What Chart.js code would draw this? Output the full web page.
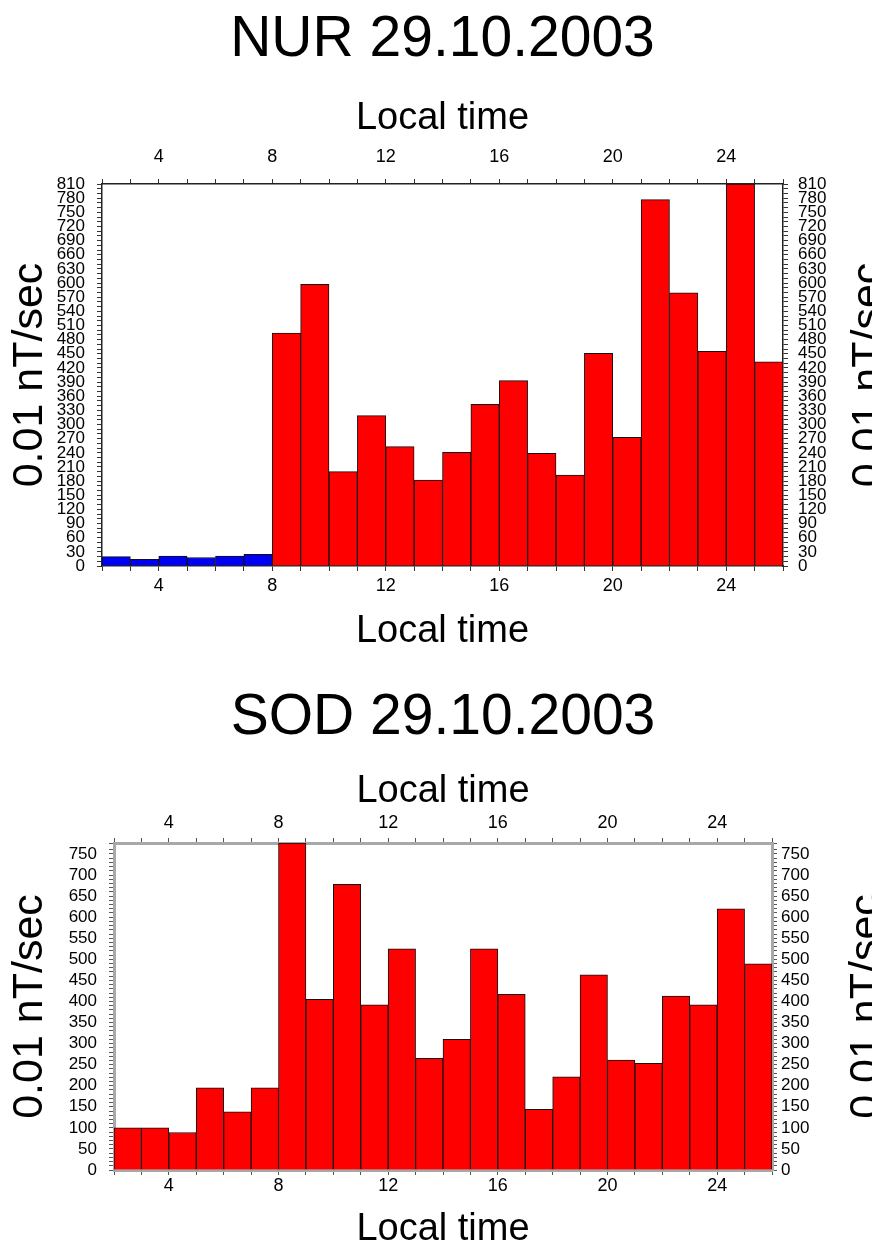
<!DOCTYPE html>
<html>
<head>
<meta charset="utf-8">
<title>NUR / SOD 29.10.2003</title>
<script src="https://cdn.jsdelivr.net/npm/chart.js@4.4.1/dist/chart.umd.min.js"></script>
<style>
  html, body { margin: 0; padding: 0; background: #fff; overflow: hidden; }
  .box { position: absolute; left: 0; width: 872px; }
  #nurBox { top: 0; height: 660px; }
  #sodBox { top: 660px; height: 600px; }
</style>
</head>
<body>
<div class="box" id="nurBox"><canvas id="nurChart"></canvas></div>
<div class="box" id="sodBox"><canvas id="sodChart"></canvas></div>
<script>
// start hour of each one-hour bin (local time)
const hourStarts = [2, 3, 4, 5, 6, 7, 8, 9, 10, 11, 12, 13, 14, 15, 16, 17, 18, 19, 20, 21, 22, 23, 24, 25];

// NUR, 0.01 nT/sec
const nurValues = [20, 14, 21, 18, 21, 25, 494, 597, 200, 319, 253, 182, 241, 343, 393, 239, 193, 451, 273, 777, 579, 455, 810, 433];
// SOD, 0.01 nT/sec
const sodValues = [100, 100, 89, 195, 138, 195, 776, 405, 678, 392, 525, 265, 310, 525, 417, 144, 221, 463, 261, 253, 413, 392, 620, 489];

const xTickLabels = [4, 8, 12, 16, 20, 24];
const nurYTickLabels = [0, 30, 60, 90, 120, 150, 180, 210, 240, 270, 300, 330, 360, 390, 420, 450, 480, 510, 540, 570, 600, 630, 660, 690, 720, 750, 780, 810];
const sodYTickLabels = [0, 50, 100, 150, 200, 250, 300, 350, 400, 450, 500, 550, 600, 650, 700, 750];

const nurYMax = 810;
const sodYMax = 776;
const nurBlueBefore = 8; // NUR bins before 08 LT are drawn blue

Chart.defaults.font.family = "'Liberation Sans', Arial, sans-serif";
Chart.defaults.color = '#000';

// y axis title on the right side, reading bottom to top like the left one
const rightTitle = {
    id: 'rightTitle',
    afterDraw(chart, args, opts) {
        const area = chart.chartArea;
        const ctx = chart.ctx;
        ctx.save();
        ctx.font = opts.size + "px 'Liberation Sans', Arial, sans-serif";
        ctx.fillStyle = '#000';
        ctx.textAlign = 'center';
        ctx.textBaseline = 'middle';
        ctx.translate(opts.x, (area.top + area.bottom) / 2);
        ctx.rotate(-Math.PI / 2);
        ctx.fillText(opts.text, 0, 0);
        ctx.restore();
    }
};

function xAxis(position, s) {
    const top = position === 'top';
    return {
        type: 'linear',
        position: position,
        min: 2,
        max: 26,
        offset: false,
        afterFit: function(scale) { scale.height = top ? s.topH : s.bottomH; },
        border: { display: true, color: s.frame, width: s.frameW },
        grid: { offset: false, drawOnChartArea: false, drawTicks: true, tickLength: 5, tickColor: s.tickColor },
        ticks: {
            stepSize: 1,
            autoSkip: false,
            maxRotation: 0,
            padding: top ? s.topTickPad : s.bottomTickPad,
            font: { size: 18, lineHeight: 1 },
            callback: v => xTickLabels.includes(v) ? v : ''
        },
        title: {
            display: true,
            text: 'Local time',
            font: { size: 38 },
            padding: top ? { top: s.topTitlePad, bottom: 0 } : { top: 0, bottom: s.bottomTitlePad }
        }
    };
}

function yAxis(position, s) {
    const left = position === 'left';
    return {
        type: 'linear',
        position: position,
        min: 0,
        max: s.yMax,
        afterFit: function(scale) { scale.width = left ? s.leftW : s.rightW; },
        border: { display: true, color: s.frame, width: s.frameW },
        grid: { drawOnChartArea: false, drawTicks: true, tickLength: 5, tickColor: s.tickColor },
        ticks: {
            stepSize: 10,
            autoSkip: false,
            padding: left ? s.leftTickPad : s.rightTickPad,
            font: { size: 17, lineHeight: 1 },
            callback: v => s.yLabels.includes(v) ? v : ''
        },
        title: {
            display: left,
            text: '0.01 nT/sec',
            font: { size: 43 },
            padding: { top: s.yTitlePad, bottom: 0 }
        }
    };
}

function makeChart(canvasId, title, values, s) {
    const ctx = document.getElementById(canvasId).getContext('2d');
    return new Chart(ctx, {
        type: 'bar',
        data: {
            datasets: [{
                data: hourStarts.map((h, i) => ({ x: h + 0.5, y: values[i] })),
                backgroundColor: c => (s.blueBefore && hourStarts[c.dataIndex] < s.blueBefore) ? '#0000f5' : '#ff0000',
                borderColor: '#111',
                borderWidth: 1,
                barPercentage: 1,
                categoryPercentage: 1,
                xAxisID: 'x',
                yAxisID: 'y'
            }]
        },
        options: {
            responsive: true,
            maintainAspectRatio: false,
            animation: false,
            layout: { padding: 0 },
            scales: {
                x: xAxis('bottom', s),
                x2: xAxis('top', s),
                y: yAxis('left', s),
                y2: yAxis('right', s)
            },
            plugins: {
                legend: { display: false },
                tooltip: { enabled: false },
                title: {
                    display: true,
                    fullSize: false,
                    text: title,
                    font: { size: 57, weight: 'normal' },
                    padding: { top: s.titlePad, bottom: 0 }
                },
                rightTitle: { text: '0.01 nT/sec', size: 43, x: s.rightTitleX }
            }
        },
        plugins: [rightTitle]
    });
}

makeChart('nurChart', 'NUR 29.10.2003', nurValues, {
    yMax: nurYMax, yLabels: nurYTickLabels, blueBefore: nurBlueBefore,
    frame: '#222', frameW: 1.5, tickColor: '#333',
    titlePad: 6,
    topH: 109.6, topTitlePad: 21, topTickPad: 13,
    bottomH: 94, bottomTickPad: 6, bottomTitlePad: 6,
    leftW: 102, leftTickPad: 12, yTitlePad: 4,
    rightW: 89, rightTickPad: 10, rightTitleX: 869
});

makeChart('sodChart', 'SOD 29.10.2003', sodValues, {
    yMax: sodYMax, yLabels: sodYTickLabels, blueBefore: 0,
    frame: '#a8a8a8', frameW: 3, tickColor: '#555',
    titlePad: 24,
    topH: 90.6, topTitlePad: 16, topTickPad: 6,
    bottomH: 90, bottomTickPad: 2, bottomTitlePad: 8,
    leftW: 114, leftTickPad: 12, yTitlePad: 4,
    rightW: 100, rightTickPad: 4, rightTitleX: 867
});
</script>
</body>
</html>
